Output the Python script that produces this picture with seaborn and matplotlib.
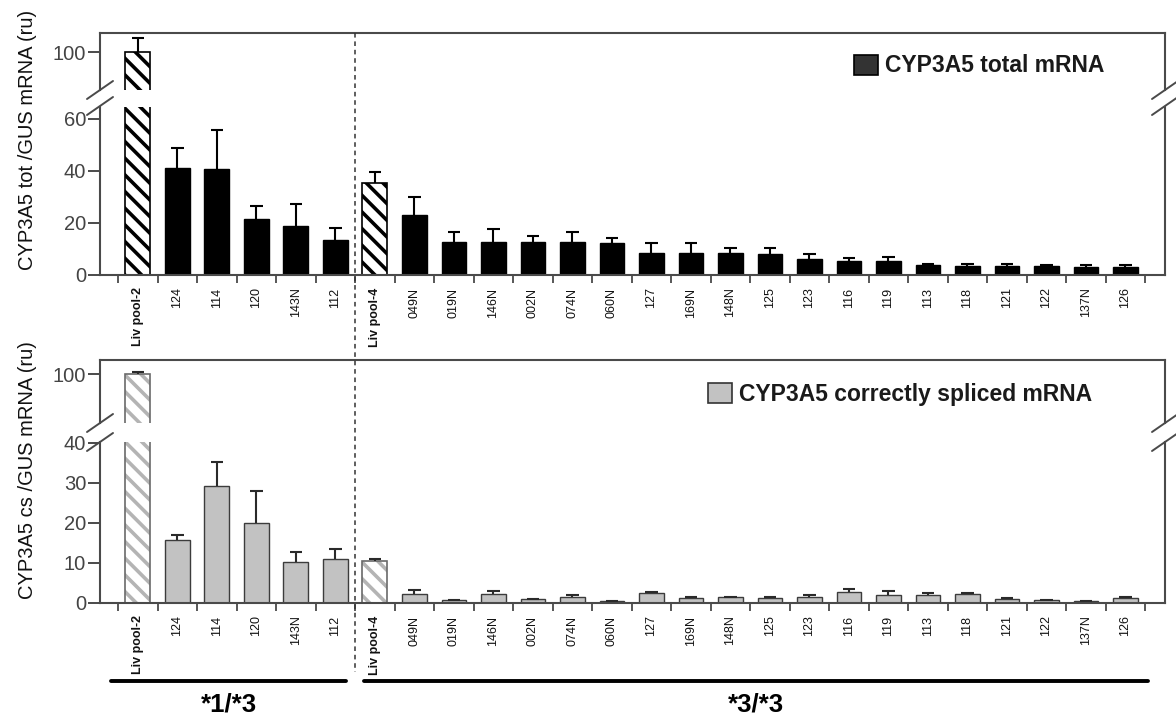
import numpy as np
import pandas as pd
import matplotlib
matplotlib.use("Agg")
import matplotlib.pyplot as plt
import seaborn as sns
from matplotlib.patches import Patch, Rectangle
from matplotlib.lines import Line2D
import matplotlib.transforms as mtrans

# ---------------- data ----------------
samples = ["Liv pool-2", "124", "114", "120", "143N", "112",
           "Liv pool-4", "049N", "019N", "146N", "002N", "074N", "060N", "127",
           "169N", "148N", "125", "123", "116", "119", "113", "118", "121",
           "122", "137N", "126"]
total_mean = [100, 41.0, 40.6, 21.4, 18.8, 13.5,
              35.3, 23.1, 12.8, 12.8, 12.8, 12.8, 12.4, 8.6,
              8.6, 8.6, 8.1, 6.0, 5.5, 5.5, 3.8, 3.5, 3.5,
              3.6, 3.0, 3.0]
total_err = [5.5, 8.0, 15.0, 5.0, 8.5, 4.5,
             4.2, 6.8, 3.9, 4.8, 2.2, 3.9, 2.0, 3.6,
             3.6, 1.7, 2.2, 2.0, 0.9, 1.3, 0.4, 0.9, 0.9,
             0.3, 0.9, 0.9]
cs_mean = [100, 15.8, 29.2, 19.9, 10.3, 11.0,
           10.4, 2.2, 0.8, 2.2, 0.9, 1.6, 0.5, 2.5,
           1.3, 1.5, 1.3, 1.6, 2.8, 1.9, 1.9, 2.3, 0.9,
           0.8, 0.4, 1.2]
cs_err = [0.5, 1.3, 6.0, 8.0, 2.4, 2.6,
          0.6, 1.0, 0.0, 0.7, 0.2, 0.3, 0.1, 0.3,
          0.3, 0.0, 0.3, 0.3, 0.8, 1.0, 0.6, 0.3, 0.3,
          0.0, 0.2, 0.3]
pools = ["Liv pool-2", "Liv pool-4"]
genotype_labels = ["*1/*3", "*3/*3"]
group1 = samples[:6]
group2 = samples[6:]
legend_total = "CYP3A5 total mRNA"
legend_cs = "CYP3A5 correctly spliced mRNA"
ylabel_total = "CYP3A5 tot /GUS mRNA (ru)"
ylabel_cs = "CYP3A5 cs /GUS mRNA (ru)"

df_tot = pd.DataFrame({"sample": samples, "value": total_mean, "err": total_err})
df_cs = pd.DataFrame({"sample": samples, "value": cs_mean, "err": cs_err})

# ---------------- style ----------------
sns.set_theme(style="white")
plt.rcParams["font.family"] = ["Liberation Sans", "DejaVu Sans"]
plt.rcParams["hatch.linewidth"] = 2.6
plt.rcParams["axes.linewidth"] = 1.5

W, H = 1176, 718
fig = plt.figure(figsize=(W / 100, H / 100), dpi=100)


def px_ax(x0, y0, x1, y1):
    return fig.add_axes([x0 / W, 1 - y1 / H, (x1 - x0) / W, (y1 - y0) / H])


SPINE = "#4a4a4a"
XL = (-0.96, 26.0)

ax_tu = px_ax(100, 33, 1165, 90)
ax_tl = px_ax(100, 107, 1165, 275)
ax_bu = px_ax(100, 360, 1165, 423)
ax_bl = px_ax(100, 442, 1165, 603)


def draw_bars(ax, df, color, edge, hatch_col, outline_col, err_col):
    sns.barplot(data=df, x="sample", y="value", order=samples, color=color,
                saturation=1, width=0.63, errorbar=None, edgecolor=edge,
                linewidth=1.0, ax=ax)
    for p, s in zip(ax.patches, samples):
        if s in pools:
            p.set_facecolor("white")
            p.set_hatch("\\\\")
            p.set_edgecolor(hatch_col)
            p.set_linewidth(0)
            ax.add_patch(Rectangle(p.get_xy(), p.get_width(), p.get_height(),
                                   fill=False, edgecolor=outline_col, lw=1.2,
                                   zorder=p.get_zorder() + 0.1))
    xs = np.arange(len(samples))
    m = df["value"].to_numpy()
    e = df["err"].to_numpy()
    ax.vlines(xs, m, m + e, color=err_col, lw=1.5, zorder=5)
    ax.hlines(m + e, xs - 0.16, xs + 0.16, color=err_col, lw=1.5, zorder=5)
    ax.set_xlim(*XL)
    ax.set_xlabel("")
    ax.set_ylabel("")
    for sp in ax.spines.values():
        sp.set_color(SPINE)
        sp.set_linewidth(1.5)
    ax.tick_params(axis="y", which="major", left=True, length=8.5, width=1.4,
                   color=SPINE, labelsize=14.5, labelcolor="#444444", pad=1.5)


for ax in (ax_tu, ax_tl):
    draw_bars(ax, df_tot, "black", "black", "black", "black", "black")
for ax in (ax_bu, ax_bl):
    draw_bars(ax, df_cs, "#c2c2c2", "#3c3c3c", "#b4b4b4", "#6a6a6a", "#2a2a2a")

ax_tu.set_ylim(85.4, 107.3)
ax_tu.set_yticks([100])
ax_tl.set_ylim(0, 64.6)
ax_tl.set_yticks([0, 20, 40, 60])
ax_bu.set_ylim(88.0, 103.5)
ax_bu.set_yticks([100])
ax_bl.set_ylim(0, 40.2)
ax_bl.set_yticks([0, 10, 20, 30, 40])

for ax in (ax_tu, ax_bu):
    ax.spines["bottom"].set_visible(False)
    ax.set_xticks([])
    ax.tick_params(axis="x", bottom=False, labelbottom=False)
for ax in (ax_tl, ax_bl):
    ax.spines["top"].set_visible(False)
    ax.set_xticks(np.arange(len(samples)))
    ax.set_xticklabels(samples, rotation=90, fontsize=9, color="#111111")
    for lab in ax.get_xticklabels():
        if lab.get_text() in pools:
            lab.set_fontweight("bold")
    ax.set_xticks(np.arange(-0.5, len(samples), 1), minor=True)
    ax.tick_params(axis="x", which="major", bottom=True, length=0, pad=9)
    ax.tick_params(axis="x", which="minor", bottom=True, length=6, width=1.3,
                   color=SPINE)

# y labels
fig.text(28 / W, 1 - 140 / H, ylabel_total, rotation=90, ha="center",
         va="center", fontsize=14.5, color="#111111")
fig.text(28 / W, 1 - 470 / H, ylabel_cs, rotation=90, ha="center",
         va="center", fontsize=14.5, color="#111111")

# legends
leg_kw = dict(loc="center left", bbox_transform=fig.transFigure, frameon=False,
              handlelength=1.05, handleheight=0.95, handletextpad=0.3,
              borderpad=0, borderaxespad=0,
              prop={"size": 16.5, "weight": "bold"})
lt = ax_tu.legend(handles=[Patch(facecolor="#333333", edgecolor="black", lw=1.2,
                                 label=legend_total)],
                  bbox_to_anchor=(854 / W, 1 - 66 / H), **leg_kw)
lb = ax_bu.legend(handles=[Patch(facecolor="#c2c2c2", edgecolor="#333333", lw=1.2,
                                 label=legend_cs)],
                  bbox_to_anchor=(708 / W, 1 - 394 / H), **leg_kw)
for leg in (lt, lb):
    for t in leg.get_texts():
        t.set_color("#1a1a1a")


# break marks (figure pixels)
def brk(x0, y0, x1, y1):
    fig.add_artist(Line2D([x0 / W, x1 / W], [1 - y0 / H, 1 - y1 / H],
                          transform=fig.transFigure, color=SPINE, lw=1.4))


for xc in (100, 1165):
    brk(xc - 13, 99, xc + 13, 81)
    brk(xc - 13, 115, xc + 13, 97)
    brk(xc - 13, 432, xc + 13, 414)
    brk(xc - 13, 451, xc + 13, 433)

# dashed separator between genotype groups
trans = mtrans.blended_transform_factory(ax_tl.transData, fig.transFigure)
sep_x = samples.index(group2[0]) - 0.5
fig.add_artist(Line2D([sep_x, sep_x], [1 - 33 / H, 1 - 672 / H], transform=trans,
                      color="#333333", lw=1.1, ls=(0, (3, 2.5))))

# genotype group lines and labels
i1a, i1b = samples.index(group1[0]), samples.index(group1[-1])
i2a, i2b = samples.index(group2[0]), samples.index(group2[-1])
for (a, b), lab in zip([(i1a - 0.68, i1b + 0.27), (i2a - 0.28, i2b + 0.57)],
                       genotype_labels):
    fig.add_artist(Line2D([a, b], [1 - 681 / H, 1 - 681 / H], transform=trans,
                          color="black", lw=2.8))
    fig.text((a + b) / 2, 1 - 704 / H, lab, transform=trans, ha="center",
             va="center", fontsize=18.5, fontweight="bold", color="black")

fig.savefig("out.png", dpi=100)
